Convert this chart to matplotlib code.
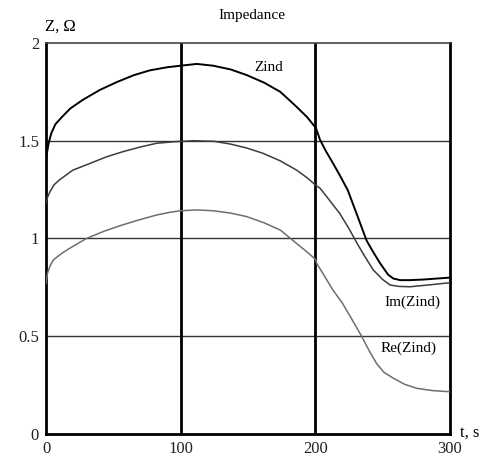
import numpy as np
import matplotlib
matplotlib.use("Agg")
import matplotlib.pyplot as plt

plt.rcParams["font.family"] = ["Liberation Serif", "DejaVu Serif"]

# values
t_zind = [0, 1, 2, 4, 7, 11.6, 18, 27.5, 40, 52.5, 65, 77, 90, 100, 112, 124, 137, 149, 162, 174, 186, 194, 200.5,
          203.5, 208, 213, 218, 224, 231, 238, 243, 248, 254, 258, 263, 270, 280, 290, 300]
zind = [1.40, 1.45, 1.49, 1.54, 1.585, 1.62, 1.665, 1.71, 1.76, 1.80, 1.835, 1.86, 1.876, 1.884, 1.893, 1.884, 1.865,
        1.836, 1.797, 1.75, 1.674, 1.62, 1.564, 1.504, 1.445, 1.386, 1.325, 1.248, 1.12, 0.99, 0.93, 0.874, 0.815,
        0.795, 0.787, 0.787, 0.79, 0.795, 0.80]

t_im = [0, 1, 3, 6, 10, 20, 33, 45, 57, 70, 82, 95, 110, 125, 137, 149, 161, 174, 186, 194, 200, 203.5, 210, 218,
        225, 231, 237, 243, 250, 255.5, 262, 270, 285, 300]
im_zind = [1.18, 1.21, 1.24, 1.275, 1.30, 1.35, 1.385, 1.418, 1.444, 1.468, 1.487, 1.495, 1.50, 1.497, 1.483, 1.463,
           1.436, 1.397, 1.35, 1.31, 1.274, 1.257, 1.20, 1.129, 1.05, 0.975, 0.905, 0.839, 0.79, 0.762, 0.755,
           0.753, 0.763, 0.774]

t_re = [0, 1, 3, 5.4, 9, 13, 20, 30, 43, 57, 70, 82, 92, 100, 112, 124, 137, 149, 162, 174, 186, 194, 200, 201, 207,
        213, 220, 226, 231, 234.5, 240, 245.5, 251, 258, 266, 275, 287, 300]
re_zind = [0.77, 0.82, 0.86, 0.89, 0.91, 0.93, 0.96, 1.0, 1.037, 1.07, 1.097, 1.12, 1.134, 1.142, 1.146, 1.142, 1.13,
           1.112, 1.08, 1.043, 0.975, 0.93, 0.894, 0.873, 0.805, 0.737, 0.67, 0.60, 0.54, 0.498, 0.425, 0.36, 0.315,
           0.285, 0.255, 0.234, 0.222, 0.216]

xticks = [0, 100, 200, 300]
yticks = [0, 0.5, 1, 1.5, 2]
ytick_labels = ["0", "0.5", "1", "1.5", "2"]

fig = plt.figure(figsize=(4.86, 4.59), dpi=100)
ax = fig.add_axes([0.0947, 0.0545, 0.8313, 0.8518])

for y in yticks[1:4]:
    ax.axhline(y, color="#333333", lw=1.0, zorder=1)
for x in xticks[1:3]:
    ax.axvline(x, color="black", lw=2.0, zorder=1)

ax.plot(t_re, re_zind, color="#6e6e6e", lw=1.1, zorder=3)
ax.plot(t_im, im_zind, color="#3c3c3c", lw=1.1, zorder=3)
ax.plot(t_zind, zind, color="black", lw=1.4, zorder=4)

ax.set_xlim(0, 300)
ax.set_ylim(0, 2)
ax.set_xticks(xticks)
ax.set_yticks(yticks)
ax.set_yticklabels(ytick_labels)
ax.tick_params(length=0, labelsize=12, colors="#222222", pad=5)

for s in ["left", "bottom", "right"]:
    ax.spines[s].set_linewidth(2.0)
    ax.spines[s].set_color("black")
ax.spines["top"].set_linewidth(1.2)
ax.spines["top"].set_color("#444444")

ax.text(165, 1.877, "Zind", fontsize=11, ha="center", va="center")
ax.text(272, 0.675, "Im(Zind)", fontsize=11, ha="center", va="center")
ax.text(269, 0.44, "Re(Zind)", fontsize=11, ha="center", va="center")

fig.text(252 / 486, 1 - 16 / 459, "Impedance", fontsize=11, ha="center", va="center")
fig.text(60 / 486, 1 - 27 / 459, "Z, Ω", fontsize=12, ha="center", va="center")
fig.text(470 / 486, 1 - 433 / 459, "t, s", fontsize=12, ha="center", va="center")

fig.savefig("out.png", dpi=100, facecolor="white")
